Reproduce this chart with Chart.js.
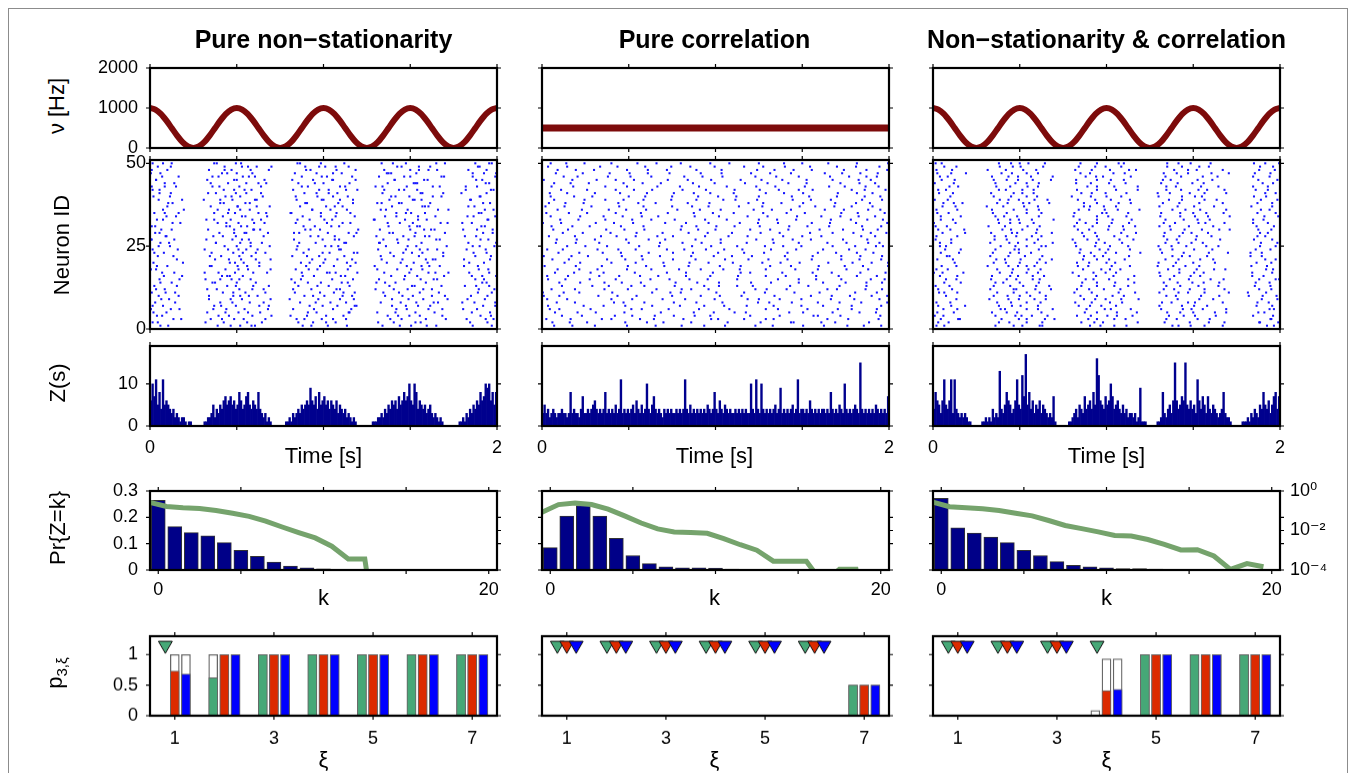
<!DOCTYPE html>
<html><head><meta charset="utf-8">
<script src="https://cdn.jsdelivr.net/npm/chart.js@4.4.1/dist/chart.umd.min.js"></script>
<style>
body{margin:0;background:#fff;width:1356px;height:773px;overflow:hidden;position:relative;font-family:"Liberation Sans",Arial,sans-serif;}
#frame{position:absolute;left:8px;top:8px;width:1338px;height:820px;border:1px solid #8c8c8c;}
canvas{position:absolute;}
.t{position:absolute;white-space:nowrap;color:#000;z-index:5;line-height:1.15;}
.ttl{font-weight:bold;font-size:25px;transform:translate(-50%,-50%);}
.xl{font-size:22px;transform:translate(-50%,-50%);}
.yl{font-size:22px;transform:translate(-50%,-50%) rotate(-90deg);}
.yl sub{font-size:15px;}
</style></head><body>
<div id="frame"></div>
<div class="t ttl" style="left:323.5px;top:39px">Pure non−stationarity</div>
<div class="t ttl" style="left:714.5px;top:39px">Pure correlation</div>
<div class="t ttl" style="left:1106.5px;top:39px">Non−stationarity &amp; correlation</div>
<div class="t yl" style="left:57px;top:106px">ν [Hz]</div>
<div class="t yl" style="left:62px;top:245px">Neuron ID</div>
<div class="t yl" style="left:58px;top:383px">Z(s)</div>
<div class="t yl" style="left:58px;top:528px">Pr{Z=k}</div>
<div class="t yl" style="left:56px;top:673px">p<sub>3,ξ</sub></div>
<div class="t xl" style="left:323.5px;top:456px">Time [s]</div>
<div class="t xl" style="left:714.5px;top:456px">Time [s]</div>
<div class="t xl" style="left:1106.5px;top:456px">Time [s]</div>
<div class="t xl" style="left:323.5px;top:598px">k</div>
<div class="t xl" style="left:714.5px;top:598px">k</div>
<div class="t xl" style="left:1106.5px;top:598px">k</div>
<div class="t xl" style="left:323.5px;top:760px">ξ</div>
<div class="t xl" style="left:714.5px;top:760px">ξ</div>
<div class="t xl" style="left:1106.5px;top:760px">ξ</div>
<script>
// ---------------- DATA ----------------
const timeTicks = [0, 0.5, 1, 1.5, 2];
const RATE_STEP = 1 / 32;      // s between rate samples
const SPIKE_BIN = 0.005;       // s per spike-time unit
const Z_BIN = 0.01;            // s per Z(s) value

const rateNonStat = [1000,962,854,691,500,309,146,38,0,38,146,309,500,691,854,962,
 1000,962,854,691,500,309,146,38,0,38,146,309,500,691,854,962,
 1000,962,854,691,500,309,146,38,0,38,146,309,500,691,854,962,
 1000,962,854,691,500,309,146,38,0,38,146,309,500,691,854,962,
 1000];
const rateCorrTimes = [0, 2];
const rateCorr = [500, 500];
const rateBoth = [1000,962,854,691,500,309,146,38,0,38,146,309,500,691,854,962,
 1000,962,854,691,500,309,146,38,0,38,146,309,500,691,854,962,
 1000,962,854,691,500,309,146,38,0,38,146,309,500,691,854,962,
 1000,962,854,691,500,309,146,38,0,38,146,309,500,691,854,962,
 1000];

// spike times per neuron (units of SPIKE_BIN)
const spikesNonStat = [
[12,78,104,121,176,205,268,301,330,372,21,93,117,186,227,288,319,394],
[3,85,112,188,214,281,312,389,9,64,129,171,203,263,306,369],
[27,70,97,133,169,198,226,290,318,365,396,36,83,108,178,211,277,341,387],
[8,91,118,181,203,274,299,337,381,14,79,140,162,223,286,311,393],
[19,66,102,127,192,230,262,306,392,4,87,113,182,229,283,328,371],
[1,34,88,109,165,211,284,321,377,24,73,136,189,232,296,337,361],
[15,74,99,137,184,199,236,295,309,384,3,82,126,216,238,279,323,398],
[6,81,115,173,208,266,289,327,360,398,29,95,131,191,226,307,332,374],
[22,93,106,194,219,279,315,386,13,68,139,161,235,298,343,366],
[10,68,96,124,178,201,233,271,303,340,370,33,114,104,188,222,291,325,389],
[2,29,84,110,167,196,223,287,311,394,18,96,133,212,236,269,333,378],
[17,77,103,131,186,215,260,297,325,379,7,66,118,165,219,281,315,397],
[5,89,119,171,206,276,305,363,391,31,99,137,193,230,302,336,376],
[25,72,100,182,197,228,283,318,388,12,122,75,167,221,271,261,383],
[11,64,94,116,163,210,264,293,331,375,34,103,81,174,234,312,327,385],
[0,37,83,107,189,220,278,308,383,399,16,92,89,176,225,294,339,371],
[14,79,98,135,175,204,239,270,299,344,368,28,63,119,207,214,321,329,391],
[7,87,113,168,193,285,314,390,1,102,139,183,228,301,262,379],
[20,69,101,126,180,212,259,296,322,378,8,112,71,196,231,313,334,362],
[4,92,108,174,200,227,273,304,385,38,126,98,184,237,289,320,368],
[31,75,105,139,187,216,267,291,329,362,0,91,122,202,233,318,326,392],
[9,82,117,164,195,281,310,393,27,69,103,181,224,266,338,375],
[16,71,96,122,177,207,235,277,302,338,373,5,107,133,199,239,292,314,388],
[3,63,90,111,183,218,263,295,320,387,32,124,102,169,220,311,331,365],
[23,86,100,170,202,272,307,380,397,10,116,138,209,217,297,342,372],
[12,76,104,129,191,224,286,313,367,22,76,116,172,226,264,265,399],
[1,28,95,114,166,199,269,298,334,390,2,65,106,218,213,285,330,381],
[18,73,99,185,213,261,292,317,376,19,84,131,194,235,305,322,363],
[6,80,109,136,172,205,238,280,306,384,11,97,111,166,229,276,340,395],
[13,67,97,120,179,196,265,300,328,361,395,25,119,127,185,240,316,324,377],
[2,88,112,190,209,275,311,382,6,105,92,177,218,299,308,386],
[26,78,102,132,168,222,288,303,343,371,35,88,120,204,231,274,335,360],
[8,65,93,118,184,201,258,294,319,389,15,74,128,170,210,309,259,390],
[19,84,106,176,214,271,309,366,398,30,110,135,197,236,284,329,373],
[5,33,74,98,125,162,197,231,284,301,379,17,134,90,163,215,295,317,382],
[15,91,115,187,208,266,297,332,386,39,78,104,187,227,272,344,396],
[0,70,101,138,173,203,279,314,374,20,101,123,213,222,317,321,367],
[21,81,110,181,217,262,290,323,392,26,85,115,179,234,287,267,384],
[10,62,95,123,169,198,234,276,305,369,37,121,81,200,219,303,313,370],
[4,87,104,193,211,283,299,336,381,23,94,130,168,228,278,326,380],
[24,76,99,128,178,206,268,312,388,11,67,111,192,216,314,338,359],
[11,85,117,165,195,226,287,308,364,396,3,109,97,206,239,293,270,393],
[2,30,72,103,182,219,260,296,326,377,17,80,128,175,225,268,334,364],
[17,90,111,134,171,200,274,304,391,28,125,70,190,230,306,308,387],
[7,66,97,188,210,237,282,316,383,7,100,132,164,211,282,320,376],
[14,79,107,121,175,204,264,293,339,372,33,72,114,198,233,300,336,398],
[1,83,100,167,192,278,307,385,399,12,118,89,211,221,275,273,372],
[20,68,94,116,185,215,270,300,321,367,2,86,137,180,237,310,331,388],
[9,86,113,140,179,202,229,285,310,380,24,106,123,195,214,290,323,378],
[3,25,74,105,170,197,267,295,330,375,394,15,77,99,173,224,280,340,391]];

const spikesCorr = [
[14,35,98,131,187,246,266,325,352,391,61,161,211,301,371],
[32,96,121,140,214,287,290,338,377,12,52,172,252,322],
[5,69,80,129,195,203,258,267,329,388,33,113,163,233,353],
[23,46,130,152,176,240,313,318,390,84,104,194,274,344],
[41,62,137,198,222,235,301,366,385,15,95,175,285,335],
[9,20,103,115,181,258,272,341,357,56,146,216,306,386],
[48,71,96,159,210,236,299,324,391,7,127,187,267,357],
[17,83,94,152,178,249,262,288,343,368,38,118,208,318,398],
[6,80,104,165,237,250,274,333,360,29,139,199,299,389],
[2,65,87,109,183,205,268,334,355,398,20,150,230,310,380],
[25,43,127,148,160,233,257,320,386,1,81,201,291,361],
[11,38,99,161,172,246,259,329,340,373,72,132,192,282,392],
[58,77,118,187,204,225,286,307,374,23,103,153,243,343],
[20,72,92,114,179,241,264,296,350,392,44,154,204,324,374],
[7,27,85,147,170,191,272,296,316,379,55,125,225,345,395],
[30,89,113,134,194,258,281,342,363,6,66,166,226,316,386],
[15,56,71,144,166,229,240,312,334,396,37,107,197,277,367],
[43,64,126,183,209,228,292,351,376,18,98,158,258,318],
[3,39,99,120,141,205,263,287,349,370,69,169,229,319,399],
[26,44,108,170,192,254,275,297,358,399,80,140,220,330,380],
[12,75,96,116,177,238,261,283,345,366,31,151,211,311,391],
[34,53,115,136,198,219,280,345,367,2,92,172,242,312,392],
[19,70,91,151,174,233,256,318,339,382,43,123,203,283,363],
[6,64,88,108,189,210,231,293,354,373,24,144,164,264,324],
[29,50,112,173,195,257,278,299,361,393,75,135,225,335,385],
[16,39,100,162,184,206,267,329,351,389,66,136,236,296,376],
[40,61,123,142,206,266,289,310,375,17,97,177,247,347],
[8,68,86,133,151,215,237,300,322,384,38,108,188,278,368],
[24,47,109,169,191,252,274,335,359,397,79,139,219,309,379],
[13,74,95,118,180,200,263,284,347,387,30,160,240,320,370],
[35,55,117,178,201,222,285,306,369,11,91,161,251,331,391],
[1,62,83,105,166,228,249,311,332,398,22,142,192,272,362],
[21,42,104,126,188,250,271,293,356,375,73,153,213,333,393],
[10,71,93,115,176,237,260,322,344,365,44,134,204,294,384],
[31,52,114,175,197,221,282,303,364,5,85,145,255,345,395],
[18,77,97,120,182,244,265,287,348,390,46,156,206,326,376],
[4,26,89,150,173,192,254,315,337,381,57,117,227,297,357],
[27,48,111,131,193,255,276,301,362,378,8,88,168,238,338],
[14,73,94,117,178,223,248,310,333,392,49,149,209,289,369],
[37,58,119,180,203,224,288,308,372,10,100,150,250,340,390],
[9,29,90,152,175,194,258,279,341,363,61,121,221,301,381],
[22,85,106,127,189,251,273,296,357,396,52,162,222,312,372],
[11,36,98,159,181,247,269,331,349,388,73,133,213,303,373],
[33,54,116,137,199,260,284,305,366,14,94,174,234,344,384],
[2,63,85,106,168,229,253,277,335,379,35,145,195,305,365],
[25,41,102,164,185,208,270,332,354,374,76,126,246,296,386],
[16,78,101,122,183,241,263,326,346,387,47,147,207,287,367],
[39,60,122,144,207,268,290,311,374,18,98,178,248,348,398],
[7,67,87,149,171,233,255,280,340,362,29,119,199,309,389],
[28,49,110,132,194,216,279,300,363,399,10,80,160,250,330]];

const spikesBoth = [
[4,72,103,126,181,209,276,297,334,385,13,93,123,193,223,283,313,393],
[18,88,108,171,196,267,318,377,398,6,76,126,186,236,296,336,376],
[9,31,79,108,140,189,222,281,305,390,29,99,129,179,209,269,319,389],
[2,95,114,166,201,230,289,326,369,12,72,102,132,182,212,272,302,392],
[24,68,97,189,212,270,300,338,382,5,85,125,175,235,285,325,375],
[12,83,121,177,205,263,311,393,28,78,108,138,198,228,288,298,338,388],
[6,37,76,101,168,194,287,316,373,21,91,121,181,211,261,301,391],
[20,90,108,183,218,275,302,387,4,74,124,164,204,264,294,334,374],
[0,65,99,130,174,199,237,282,323,379,27,87,117,187,217,307,397],
[15,86,112,189,207,269,309,364,396,0,70,100,130,170,220,280,330,380],
[7,28,74,108,163,214,261,294,341,384,13,93,123,183,233,283,313,363],
[22,93,118,180,197,278,313,390,6,66,96,136,166,216,266,296,336,376],
[3,70,104,134,171,225,285,306,371,19,89,119,189,209,269,329,389],
[13,81,100,189,210,266,299,330,388,32,72,122,172,232,282,312,372],
[27,67,96,123,176,203,273,320,376,399,15,85,115,185,225,295,335,395],
[8,89,115,168,232,262,297,381,28,68,98,128,188,208,278,308,368],
[1,35,77,108,185,199,284,312,368,11,91,121,161,211,261,301,391],
[17,92,110,173,216,271,304,337,392,4,74,124,194,204,284,324,384],
[10,63,98,108,179,206,259,291,385,27,87,117,167,227,277,307,367],
[25,84,120,166,200,280,325,373,0,70,100,130,180,210,260,300,390],
[5,73,101,137,189,221,268,308,395,23,83,123,173,203,283,323,383],
[19,87,106,174,196,287,296,379,16,66,126,186,226,276,316,366],
[0,30,69,113,182,211,264,318,340,366,9,89,99,169,199,239,289,379],
[14,94,99,170,227,276,301,389,32,72,122,192,202,262,322,372],
[8,78,108,130,187,204,260,292,329,377,15,95,125,165,225,275,315,395],
[21,66,117,164,198,283,311,397,8,88,98,138,188,218,268,298,378],
[3,85,108,178,215,270,303,370,21,71,121,161,191,231,281,331,391],
[28,71,96,125,189,209,266,321,383,4,84,114,174,224,284,304,374],
[11,91,119,172,234,288,298,386,37,67,97,137,187,217,267,317,377],
[6,36,80,103,167,202,274,310,342,375,20,90,120,180,220,290,330,390],
[16,64,109,184,219,261,295,393,3,83,123,163,203,233,273,323,373],
[1,89,100,176,189,279,314,369,26,76,116,166,206,226,266,306,336,386],
[23,75,114,139,169,207,268,305,381,9,89,99,189,229,289,319,369],
[9,82,97,189,223,285,317,398,32,72,122,162,202,262,302,342,382],
[18,69,108,163,200,263,300,335,374,5,85,125,195,225,285,315,395],
[4,93,122,180,213,276,291,388,28,68,108,168,198,238,308,338,378],
[26,62,105,174,197,282,324,367,11,81,121,181,211,261,301,391],
[12,34,86,111,189,228,265,307,391,24,74,104,134,174,214,284,334,374],
[2,77,99,132,167,205,272,313,378,17,87,117,187,227,287,327,397],
[20,90,108,182,217,287,302,384,0,70,120,160,200,260,310,370],
[7,67,116,171,199,259,296,338,395,23,93,103,183,223,273,313,383],
[15,84,103,189,211,269,316,372,6,76,116,166,236,286,306,336,386],
[0,29,73,121,178,236,280,309,386,19,89,109,189,209,269,329,369],
[24,95,108,165,203,263,299,380,2,72,122,182,222,282,312,392],
[10,70,98,136,189,220,274,322,397,25,85,115,165,205,265,305,375],
[17,87,113,176,196,286,311,369,8,68,98,138,188,228,268,328,388],
[5,38,79,108,170,208,266,294,341,389,21,91,121,181,221,281,321,371],
[22,63,119,183,226,278,304,376,4,84,104,164,204,234,294,334,394],
[13,92,101,168,199,270,318,392,27,77,127,187,217,287,307,377],
[3,76,110,129,189,214,283,297,383,399,10,90,100,170,220,270,320,370]];

const zNonStat = [
6,10,7,11,5,8,4,11,5,6, 5,4,3,4,2,3,2,1,2,2, 1,0,1,1,0,0,0,0,0,0, 0,1,1,2,2,3,5,2,4,3,
5,4,6,7,5,6,7,5,6,4, 5,8,6,4,5,7,8,5,4,6, 5,4,8,4,3,2,3,1,2,1, 0,0,0,0,0,0,0,0,1,1,
2,1,3,2,3,4,3,5,4,5, 6,5,9,6,5,7,4,8,5,6, 7,5,6,4,6,5,4,6,3,5, 4,3,4,2,3,2,1,2,1,0,
0,0,0,0,0,0,0,0,1,1, 1,2,2,3,2,4,3,5,4,6, 5,6,4,7,5,6,8,6,7,10, 6,5,10,8,4,6,5,4,5,3,
4,5,3,2,3,2,1,2,1,0, 0,0,0,0,0,0,0,0,1,1, 2,1,3,2,4,3,5,4,6,5, 8,6,7,10,9,10,6,8,5,8];
const zCorr = [
3,5,3,4,2,3,4,3,2,3, 3,4,3,3,2,3,8,3,4,3, 3,2,4,7,3,3,4,3,4,5, 6,4,3,4,3,4,8,3,4,3,
4,3,5,3,4,11,3,4,3,4, 3,4,5,3,6,4,3,5,3,4, 10,4,3,5,7,4,3,4,3,2, 4,3,4,3,4,3,3,4,3,4,
3,4,11,4,3,5,3,4,3,4, 3,4,3,4,3,5,4,3,4,8, 4,3,6,4,3,5,4,3,4,3, 3,4,3,4,3,4,3,4,3,3,
10,4,3,11,4,3,10,4,3,4, 3,4,3,4,5,3,4,9,3,4, 3,4,3,4,5,3,4,11,3,4, 4,3,4,3,6,4,3,4,3,4,
3,4,4,3,4,3,8,4,3,4, 3,5,4,3,10,4,3,4,3,4, 5,4,3,15,4,3,4,3,4,3, 4,3,5,4,3,4,3,4,3,7];
const zBoth = [
4,8,6,5,3,6,11,5,4,6, 11,3,11,4,3,2,3,2,3,2, 1,1,0,0,0,0,0,0,1,1, 2,1,2,1,4,2,3,2,13,4,
3,5,8,6,5,3,4,6,11,5, 4,12,7,17,5,8,4,6,3,5, 4,6,3,5,4,3,2,3,2,7, 1,0,0,0,0,0,0,0,1,1,
2,3,4,2,5,4,3,7,4,5, 6,4,8,5,16,12,6,5,4,7, 5,6,10,7,4,5,6,4,3,5, 3,4,2,3,3,2,3,1,2,9,
1,1,1,0,0,0,0,0,0,1, 1,2,8,3,2,4,5,3,6,15, 6,4,5,7,6,15,5,4,6,4, 5,3,11,6,4,7,5,3,7,4,
3,5,4,3,2,3,4,8,3,2, 2,1,0,0,0,0,0,0,1,1, 1,2,1,3,2,4,3,2,5,4, 8,5,4,6,3,5,7,8,4,7];

const kValues = [0,1,2,3,4,5,6,7,8,9,10,11,12,13,14,15,16,17,18,19,20];
const prNonStat = [0.265,0.165,0.142,0.13,0.104,0.075,0.052,0.03,0.015,0.0078,0.0042,0.0016,0.00036,0.00036,0,0,0,0,0,0,0];
const prCorr = [0.085,0.205,0.245,0.205,0.12,0.055,0.024,0.012,0.0085,0.008,0.0072,0.0039,0.0019,0.001,0.00028,0.00028,0.00028,0.00002,0.00011,0.00011,0];
const prBoth = [0.272,0.16,0.14,0.125,0.104,0.075,0.055,0.032,0.018,0.0125,0.0085,0.0056,0.0052,0.0035,0.002,0.00104,0.00107,0.00051,0.000107,0.00021,0.000145];

const xiValues = [1,2,3,4,5,6,7];
// filled fraction per colour
const pGreenNS = [0,0.62,1,1,1,1,1], pRedNS = [0.73,1,1,1,1,1,1], pBlueNS = [0.68,1,1,1,1,1,1];
const pGreenC = [0,0,0,0,0,0,0.5], pRedC = [0,0,0,0,0,0,0.5], pBlueC = [0,0,0,0,0,0,0.5];
const pGreenB = [0,0,0,0,1,1,1], pRedB = [0,0,0,0.41,1,1,1], pBlueB = [0,0,0,0.43,1,1,1];
// outline (white) bar heights per colour
const qGreenNS = [0,1,1,1,1,1,1], qRedNS = [1,1,1,1,1,1,1], qBlueNS = [1,1,1,1,1,1,1];
const qGreenC = [0,0,0,0,0.008,0.008,0.5], qRedC = [0,0,0,0,0.008,0.008,0.5], qBlueC = [0,0,0,0,0.008,0.008,0.5];
const qGreenB = [0,0,0,0.085,1,1,1], qRedB = [0,0,0.008,0.93,1,1,1], qBlueB = [0,0.008,0.008,0.93,1,1,1];

// ---------------- LAYOUT / STYLE ----------------
const PW = 347;
const COL_LEFT = [150, 541.5, 933];
const ROW = {rate:{top:62.5,h:85.5}, raster:{top:160,h:169}, z:{top:341,h:85}, hist:{top:486,h:84}, p:{top:631,h:84.7}};
const LW = 70, RW = 70, TH = 16, BH = 46;
const FONT = {family:"'Liberation Sans', 'DejaVu Sans', Arial, sans-serif", size:18, lineHeight:1};
const GREEN = '#46a877', RED = '#dc2a00', BLUE = '#0000ff';
const COLORS = [GREEN, RED, BLUE];
const BAR_OFF = [-0.225, 0, 0.225], TRI_OFF = [-0.19, 0, 0.19], TRI_Y = 1.15;
const LOG_FLOOR = 1e-9;

const boxPlugin = {
  id: 'box',
  afterDraw(chart, args, o) {
    const {ctx, chartArea: a, scales} = chart;
    const L = 4;
    ctx.save();
    ctx.strokeStyle = '#000'; ctx.lineWidth = 1.2;
    ctx.beginPath();
    (o.xt || []).forEach(v => { const p = scales.x.getPixelForValue(v);
      ctx.moveTo(p, a.bottom); ctx.lineTo(p, a.bottom + L); ctx.moveTo(p, a.top); ctx.lineTo(p, a.top - L); });
    (o.yt || []).forEach(v => { const p = scales.y.getPixelForValue(v);
      ctx.moveTo(a.left - L, p); ctx.lineTo(a.left, p); ctx.moveTo(a.right, p); ctx.lineTo(a.right + L, p); });
    (o.yrt || []).forEach(v => { const p = scales.yr.getPixelForValue(v);
      ctx.moveTo(a.right, p); ctx.lineTo(a.right + L, p); });
    ctx.stroke();
    ctx.lineWidth = 2.2;
    ctx.strokeRect(a.left, a.top, a.right - a.left, a.bottom - a.top);
    ctx.restore();
  }
};

function axis(spec, pos, size) {
  return {
    type: spec.type || 'linear', axis: pos === 'bottom' ? 'x' : 'y', position: pos,
    min: spec.min, max: spec.max, offset: false,
    grid: {display:false, drawTicks:false, offset:false}, border: {display:false},
    afterFit: s => { if (pos === 'bottom') s.height = size; else s.width = size; },
    afterBuildTicks: s => { s.ticks = spec.ticks.map(v => ({value: v})); },
    ticks: {autoSkip:false, maxRotation:0, minRotation:0, padding: spec.pad || 12, font: FONT, color:'#000',
      callback: v => (spec.labels && spec.labels[v] !== undefined) ? spec.labels[v] : ''}
  };
}

function panel(col, rowKey, o) {
  const r = ROW[rowKey];
  const hasR = !!o.yr;
  const w = LW + PW + RW, h = TH + r.h + BH;
  const cv = document.createElement('canvas');
  cv.width = w; cv.height = h;
  cv.style.left = (COL_LEFT[col] - LW) + 'px'; cv.style.top = (r.top - TH) + 'px';
  cv.style.width = w + 'px'; cv.style.height = h + 'px';
  document.body.appendChild(cv);
  const scales = {x: axis(o.x, 'bottom', BH), y: axis(o.y, 'left', LW)};
  if (hasR) scales.yr = axis(o.yr, 'right', RW);
  return new Chart(cv, {
    type: 'scatter',
    data: {datasets: o.datasets},
    options: {
      responsive:false, animation:false, events:[],
      layout: {padding: {top: TH, right: hasR ? 0 : RW, left: 0, bottom: 0}},
      scales,
      plugins: {legend:{display:false}, tooltip:{enabled:false},
        box: {xt: o.x.ticks, yt: o.y.ticks, yrt: hasR ? [0.01] : []}}
    },
    plugins: [boxPlugin]
  });
}

const only0 = (col, labels) => col === 0 ? labels : null;

function rateSet(vals, times, width) {
  return {type:'line', showLine:true, data: vals.map((v, i) => ({x: times ? times[i] : i * RATE_STEP, y: v})),
    borderColor:'#7d0b0b', borderWidth: width, pointRadius:0, tension:0.3, fill:false};
}
function rasterSet(spikes) {
  return {type:'scatter', data: spikes.flatMap((row, n) => row.map(b => ({x: b * SPIKE_BIN, y: n + 1}))),
    pointStyle:'rect', pointRadius:1.45, backgroundColor:'#1515ff', borderWidth:0};
}
function zSet(vals) {
  return {type:'bar', data: vals.map((v, i) => ({x: (i + 0.5) * Z_BIN, y: v})),
    backgroundColor:'#00008e', borderWidth:0, grouped:false, categoryPercentage:1, barPercentage:1};
}
function histSets(vals) {
  return [
    {type:'line', showLine:true, yAxisID:'yr', order:0, clip:0,
      data: vals.map((v, i) => ({x: kValues[i] - 0.5, y: v > 0 ? v : LOG_FLOOR})),
      borderColor:'#75a36c', borderWidth:5, pointRadius:0, fill:false},
    {type:'bar', yAxisID:'y', order:1, data: vals.map((v, i) => ({x: kValues[i], y: v})),
      backgroundColor:'#000088', borderColor:'#333', borderWidth:1, grouped:false, barThickness:14}
  ];
}
function pSets(q, p) {
  const sets = [];
  q.forEach((arr, c) => sets.push({type:'bar', order:10, data: arr.map((v, i) => ({x: xiValues[i] + BAR_OFF[c], y: v})),
    backgroundColor:'#ffffff', borderColor:'#666', borderWidth:1.3, grouped:false, barThickness:9}));
  p.forEach((arr, c) => sets.push({type:'bar', order:9, data: arr.map((v, i) => ({x: xiValues[i] + BAR_OFF[c], y: v})),
    backgroundColor: COLORS[c], borderColor:'#666', borderWidth:1, grouped:false, barThickness:9}));
  p.forEach((arr, c) => sets.push({type:'scatter', order: 3 - c,
    data: arr.map((v, i) => v === 0 ? {x: xiValues[i] + TRI_OFF[c], y: TRI_Y} : null).filter(Boolean),
    pointStyle:'triangle', rotation:180, pointRadius:8, backgroundColor: COLORS[c], borderColor:'#111', borderWidth:1}));
  return sets;
}

const rates = [[rateNonStat, null, 6], [rateCorr, rateCorrTimes, 7], [rateBoth, null, 6]];
const spikes = [spikesNonStat, spikesCorr, spikesBoth];
const zs = [zNonStat, zCorr, zBoth];
const prs = [prNonStat, prCorr, prBoth];
const qs = [[qGreenNS, qRedNS, qBlueNS], [qGreenC, qRedC, qBlueC], [qGreenB, qRedB, qBlueB]];
const ps = [[pGreenNS, pRedNS, pBlueNS], [pGreenC, pRedC, pBlueC], [pGreenB, pRedB, pBlueB]];

for (let col = 0; col < 3; col++) {
  panel(col, 'rate', {
    x: {min:0, max:2, ticks: timeTicks},
    y: {min:0, max:2000, ticks:[0,1000,2000], pad:12, labels: only0(col, {0:'0', 1000:'1000', 2000:'2000'})},
    datasets: [rateSet(rates[col][0], rates[col][1], rates[col][2])]
  });
  panel(col, 'raster', {
    x: {min:0, max:2, ticks: timeTicks},
    y: {min:0, max:51, ticks:[0,25,50], pad:4, labels: only0(col, {0:'0', 25:'25', 50:'50'})},
    datasets: [rasterSet(spikes[col])]
  });
  panel(col, 'z', {
    x: {min:0, max:2, ticks: timeTicks, pad:13, labels: {0:'0', 2:'2'}},
    y: {min:0, max:19, ticks:[0,10], pad:12, labels: only0(col, {0:'0', 10:'10'})},
    datasets: [zSet(zs[col])]
  });
  panel(col, 'hist', {
    x: {min:-0.5, max:20.5, ticks:[0,5,10,15,20], pad:11, labels: {0:'0', 20:'20'}},
    y: {min:0, max:0.3, ticks:[0,0.1,0.2,0.3], pad:12, labels: only0(col, {0:'0', 0.1:'0.1', 0.2:'0.2', 0.3:'0.3'})},
    yr: {type:'logarithmic', min:1e-4, max:1, ticks:[1e-4,1e-2,1], pad:10,
      labels: col === 2 ? {1:'10⁰', 0.01:'10⁻²', 0.0001:'10⁻⁴'} : null},
    datasets: histSets(prs[col])
  });
  panel(col, 'p', {
    x: {min:0.5, max:7.5, ticks:[1,3,5,7], pad:14, labels: {1:'1', 3:'3', 5:'5', 7:'7'}},
    y: {min:0, max:1.3, ticks:[0,0.5,1], pad:12, labels: only0(col, {0:'0', 0.5:'0.5', 1:'1'})},
    datasets: pSets(qs[col], ps[col])
  });
}
</script>
</body></html>
